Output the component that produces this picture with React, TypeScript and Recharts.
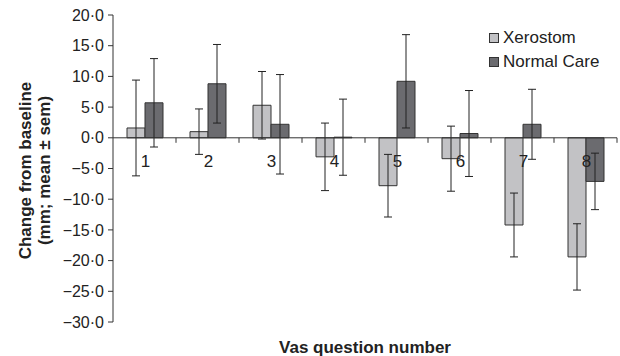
import {
  BarChart,
  Bar,
  XAxis,
  YAxis,
  ErrorBar,
  ReferenceLine,
  ReferenceDot,
  Legend,
} from "recharts";

const questions = ["1", "2", "3", "4", "5", "6", "7", "8"];
const seriesNames = ["Xerostom", "Normal Care"];
const xerostomMean = [1.6, 1.0, 5.3, -3.1, -7.8, -3.4, -14.2, -19.4];
const xerostomSem = [7.8, 3.7, 5.5, 5.5, 5.1, 5.3, 5.2, 5.4];
const normalMean = [5.7, 8.8, 2.2, 0.1, 9.2, 0.7, 2.2, -7.1];
const normalSem = [7.2, 6.4, 8.1, 6.2, 7.6, 7.0, 5.7, 4.6];
const yTicks = [20, 15, 10, 5, 0, -5, -10, -15, -20, -25, -30];

const FONT = '"Liberation Sans", Arial, Helvetica, sans-serif';
const INK = "#222";
const HALF_BAND = 31.5;

const data = questions.map((q, i) => ({
  q,
  xerostom: xerostomMean[i],
  xerostomErr: xerostomSem[i],
  normal: normalMean[i],
  normalErr: normalSem[i],
}));

// "−5·0" style labels, as in the printed figure
const fmtTick = (v: number) =>
  (v < 0 ? "\u2212" : "") + Math.abs(v).toFixed(1).replace(".", "\u00b7");

function YTitle({ viewBox }: any) {
  const cy = viewBox.y + viewBox.height / 2 + 2;
  return (
    <g fill={INK} fontWeight="bold" fontSize={17} fontFamily={FONT}>
      <text x={31} y={cy} transform={`rotate(-90 31 ${cy})`} textAnchor="middle">
        Change from baseline
      </text>
      <text x={50} y={cy} transform={`rotate(-90 50 ${cy})`} textAnchor="middle">
        (mm; mean ± sem)
      </text>
    </g>
  );
}

// category number + boundary tick drawn on the zero line
function QuestionMark({ cx, cy, label }: any) {
  return (
    <g>
      <line
        x1={cx + HALF_BAND}
        x2={cx + HALF_BAND}
        y1={cy}
        y2={cy + 5}
        stroke="#333"
      />
      <text
        x={cx + 1}
        y={cy + 29}
        textAnchor="middle"
        fontSize={17}
        fill={INK}
        fontFamily={FONT}
      >
        {label}
      </text>
    </g>
  );
}

function LegendBox({ payload }: any) {
  const items = [...(payload || [])].sort(
    (a: any, b: any) => seriesNames.indexOf(a.value) - seriesNames.indexOf(b.value)
  );
  return (
    <div style={{ fontFamily: FONT, fontSize: 17, color: INK }}>
      {items.map((p: any) => (
        <div
          key={p.value}
          style={{ display: "flex", alignItems: "center", height: 24 }}
        >
          <span
            style={{
              display: "inline-block",
              width: 8,
              height: 8,
              background: p.color,
              border: "1px solid #333",
              marginRight: 4,
            }}
          />
          {p.value}
        </div>
      ))}
    </div>
  );
}

export default function App() {
  return (
    <div style={{ position: "absolute", left: 0, top: 0, fontFamily: FONT }}>
      <BarChart
        width={620}
        height={356}
        data={data}
        margin={{ top: 15, right: 3, left: 0, bottom: 0 }}
        barGap={0}
      >
        <XAxis
          dataKey="q"
          height={34}
          axisLine={false}
          tickLine={false}
          tick={false}
          label={{
            value: "Vas question number",
            position: "insideBottom",
            offset: 3,
            fill: INK,
            fontSize: 17,
            fontWeight: "bold",
          }}
        />
        <YAxis
          width={113}
          domain={[-30, 20]}
          ticks={yTicks}
          interval={0}
          tickFormatter={fmtTick}
          tickSize={5}
          tickMargin={4}
          axisLine={{ stroke: "#333" }}
          tickLine={{ stroke: "#333" }}
          tick={{ fontSize: 16, fill: INK }}
          label={<YTitle />}
        />
        <Legend
          layout="vertical"
          align="center"
          verticalAlign="middle"
          wrapperStyle={{ top: 26, left: 489, width: 130 }}
          content={<LegendBox />}
        />
        <Bar
          dataKey="xerostom"
          name={seriesNames[0]}
          fill="#c2c2c5"
          stroke="#333"
          strokeWidth={1}
          barSize={18}
          isAnimationActive={false}
        >
          <ErrorBar dataKey="xerostomErr" width={4} stroke={INK} strokeWidth={1} />
        </Bar>
        <Bar
          dataKey="normal"
          name={seriesNames[1]}
          fill="#6b6b6f"
          stroke="#333"
          strokeWidth={1}
          barSize={18}
          isAnimationActive={false}
        >
          <ErrorBar dataKey="normalErr" width={4} stroke={INK} strokeWidth={1} />
        </Bar>
        <ReferenceLine y={0} stroke="#333" />
        {questions.map((q) => (
          <ReferenceDot
            key={q}
            x={q}
            y={0}
            r={0}
            shape={(p: any) => <QuestionMark {...p} label={q} />}
          />
        ))}
      </BarChart>
    </div>
  );
}
